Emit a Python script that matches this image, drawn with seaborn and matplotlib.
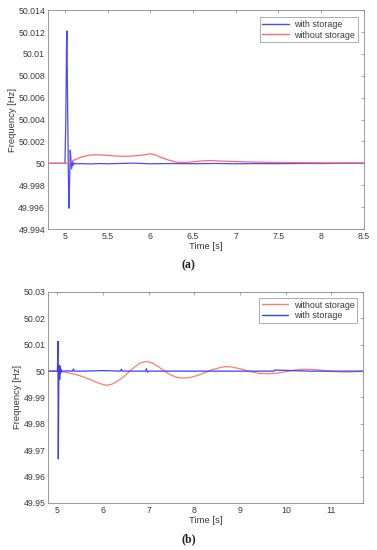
import numpy as np
import pandas as pd
import matplotlib
matplotlib.use("Agg")
import matplotlib.pyplot as plt
import seaborn as sns

# --- panel (a) data ---
a_with_t = [4.8, 4.9, 5.0, 5.01, 5.018, 5.023, 5.03, 5.04, 5.047, 5.055, 5.062, 5.07,
            5.078, 5.086, 5.094, 5.105, 5.12, 5.2, 5.3, 5.4, 5.5, 5.6, 5.8, 6.0, 6.2,
            6.5, 6.8, 7.0, 7.2, 7.5, 7.8, 8.0, 8.2, 8.5]
a_with_f = [50.0, 50.0, 50.0, 50.004, 50.0105, 50.0121, 50.006, 49.999, 49.9959, 49.9985,
            50.0012, 50.0003, 49.9995, 50.0002, 49.9998, 50.00003, 49.99996, 49.99997,
            49.99995, 49.99998, 49.99996, 49.99998, 50.00002, 49.99996, 49.99998,
            49.99997, 49.99999, 49.99996, 49.99998, 49.99997, 49.99999, 49.99998,
            50.0, 50.00001]
a_without_t = [4.8, 4.9, 5.0, 5.03, 5.1, 5.2, 5.3, 5.4, 5.5, 5.6, 5.7, 5.8, 5.9, 6.0,
               6.05, 6.1, 6.2, 6.3, 6.4, 6.5, 6.6, 6.7, 6.8, 7.0, 7.2, 7.5, 8.0, 8.5]
a_without_f = [50.0, 50.00001, 50.0, 50.0, 50.00028, 50.0006, 50.00076, 50.00078, 50.00073,
               50.00067, 50.00064, 50.00067, 50.00075, 50.00087, 50.0008, 50.00062,
               50.00033, 50.00012, 50.00008, 50.00014, 50.00022, 50.00026, 50.00022,
               50.00016, 50.00012, 50.00008, 50.00005, 50.00004]

# --- panel (b) data ---
b_without_t = [4.8, 5.0, 5.1, 5.2, 5.3, 5.4, 5.5, 5.6, 5.7, 5.8, 5.9, 6.0, 6.05, 6.1,
               6.2, 6.3, 6.4, 6.5, 6.6, 6.7, 6.8, 6.9, 6.95, 7.0, 7.1, 7.2, 7.3, 7.4,
               7.5, 7.6, 7.7, 7.8, 7.9, 8.0, 8.2, 8.4, 8.6, 8.7, 8.8, 9.0, 9.2, 9.4,
               9.6, 9.8, 10.0, 10.2, 10.4, 10.6, 10.8, 11.0, 11.2, 11.4, 11.7]
b_without_f = [50.0, 50.0, 49.9998, 49.9995, 49.9991, 49.9987, 49.9982, 49.9976, 49.9969,
               49.9962, 49.9955, 49.9949, 49.9947, 49.9947, 49.9951, 49.996, 49.9972,
               49.9986, 50.0002, 50.0017, 50.0029, 50.0035, 50.0036, 50.0035, 50.0029,
               50.0018, 50.0006, 49.9994, 49.9984, 49.9977, 49.9974, 49.9974, 49.9976,
               49.998, 49.9992, 50.0006, 50.0015, 50.0017, 50.0016, 50.0009, 49.9999,
               49.9992, 49.999, 49.9992, 49.9998, 50.0004, 50.0007, 50.0006, 50.0003,
               49.9999, 49.9997, 49.9997, 49.9999]
b_with_t = [4.8, 5.0, 5.005, 5.012, 5.02, 5.03, 5.04, 5.05, 5.06, 5.07, 5.08, 5.1, 5.2,
            5.33, 5.35, 5.37, 5.6, 6.0, 6.38, 6.4, 6.42, 6.6, 6.93, 6.95, 6.97, 7.0, 7.5,
            8.0, 9.0, 9.74, 9.76, 10.5, 11.0, 11.7]
b_with_f = [50.0, 50.0, 50.004, 50.0113, 49.9667, 49.997, 50.0022, 49.9968, 50.0018,
            49.9992, 50.0006, 49.9999, 50.0001, 50.0, 50.0008, 50.0, 50.0, 50.0002, 50.0,
            50.0007, 50.0, 50.0, 50.0, 50.0009, 49.9996, 50.0, 50.0, 50.0, 50.0, 50.0,
            50.0004, 50.0, 50.0, 50.0]

a_xticks = [5, 5.5, 6, 6.5, 7, 7.5, 8, 8.5]
a_xlabels = ["5", "5.5", "6", "6.5", "7", "7.5", "8", "8.5"]
a_yticks = [49.994, 49.996, 49.998, 50.0, 50.002, 50.004, 50.006, 50.008, 50.01, 50.012, 50.014]
a_ylabels = ["49.994", "49.996", "49.998", "50", "50.002", "50.004", "50.006",
             "50.008", "50.01", "50.012", "50.014"]
b_xticks = [5, 6, 7, 8, 9, 10, 11]
b_xlabels = ["5", "6", "7", "8", "9", "10", "11"]
b_yticks = [49.95, 49.96, 49.97, 49.98, 49.99, 50.0, 50.01, 50.02, 50.03]
b_ylabels = ["49.95", "49.96", "49.97", "49.98", "49.99", "50", "50.01", "50.02", "50.03"]

sns.set_style("white")
plt.rcParams['font.family'] = ['Liberation Sans', 'DejaVu Sans']

fig = plt.figure(figsize=(3.77, 5.5), dpi=100)
ax1 = fig.add_axes([0.127, 0.5836, 0.838, 0.398])
ax2 = fig.add_axes([0.128, 0.0855, 0.836, 0.3836])

txt = "#3a3a3a"
spine = "#8a8a8a"

df_a = pd.concat([
    pd.DataFrame({"t": a_with_t, "f": a_with_f, "s": "with storage"}),
    pd.DataFrame({"t": a_without_t, "f": a_without_f, "s": "without storage"}),
])
df_b = pd.concat([
    pd.DataFrame({"t": b_without_t, "f": b_without_f, "s": "without storage"}),
    pd.DataFrame({"t": b_with_t, "f": b_with_f, "s": "with storage"}),
])

sns.lineplot(data=df_a, x="t", y="f", hue="s", sort=False, estimator=None, ax=ax1,
             palette={"with storage": "#4a4aff", "without storage": "#ff6a6a"}, lw=0.9)
sns.lineplot(data=df_b, x="t", y="f", hue="s", sort=False, estimator=None, ax=ax2,
             palette={"with storage": "#3c3cff", "without storage": "#ff8060"}, lw=0.9)

panels = [
    (ax1, (4.8, 8.5), (49.994, 50.014), a_xticks, a_xlabels, a_yticks, a_ylabels, (0.981, 0.968)),
    (ax2, (4.8, 11.7), (49.95, 50.03), b_xticks, b_xlabels, b_yticks, b_ylabels, (0.98, 0.972)),
]
for ax, xl, yl, xt, xlab, yt, ylab, anchor in panels:
    ax.set_xlim(*xl)
    ax.set_ylim(*yl)
    ax.set_xticks(xt)
    ax.set_xticklabels(xlab)
    ax.set_yticks(yt)
    ax.set_yticklabels(ylab)
    ax.tick_params(direction="in", length=2.5, width=0.5, colors=spine, labelcolor=txt,
                   labelsize=6.3, top=True, right=True, pad=2)
    for sp in ax.spines.values():
        sp.set_color(spine)
        sp.set_linewidth(0.6)
    ax.set_xlabel("Time [s]", fontsize=6.8, color=txt, labelpad=1)
    ax.set_ylabel("Frequency [Hz]", fontsize=6.8, color=txt, labelpad=1)
    leg = ax.legend(loc="upper right", bbox_to_anchor=anchor, borderaxespad=0, fontsize=6.4,
                    frameon=True, fancybox=False, handlelength=3.0, handletextpad=0.6,
                    borderpad=0.3, labelspacing=0.2)
    leg.get_frame().set_edgecolor(spine)
    leg.get_frame().set_linewidth(0.6)
    for t in leg.get_texts():
        t.set_color(txt)
    for h in leg.get_lines():
        h.set_linewidth(1.0)

fig.text(0.5, 0.518, "(a)", ha="center", va="center", fontsize=8.5, fontweight="bold",
         family="Liberation Serif", color="#222222")
fig.text(0.5, 0.02, "(b)", ha="center", va="center", fontsize=8.5, fontweight="bold",
         family="Liberation Serif", color="#222222")

fig.savefig("out.png", dpi=100)
